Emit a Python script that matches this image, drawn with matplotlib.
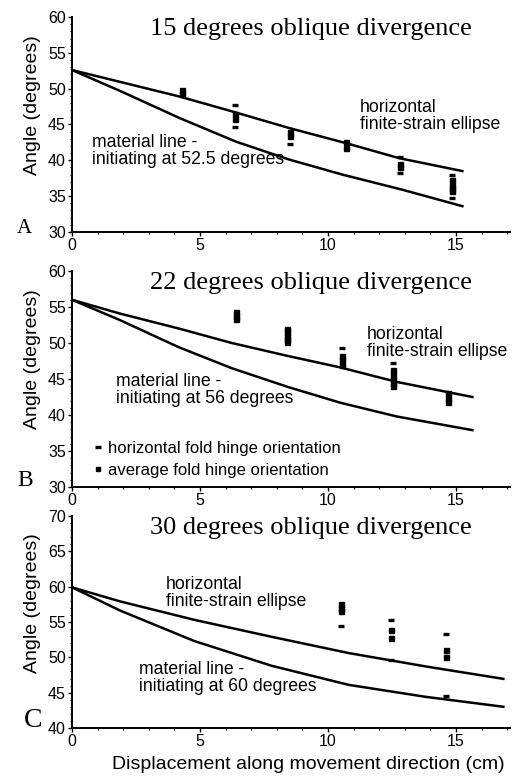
import matplotlib
matplotlib.use("Agg")
import matplotlib.pyplot as plt
from matplotlib.lines import Line2D
from matplotlib.ticker import MultipleLocator

plt.rcParams['font.family'] = ['Liberation Sans', 'DejaVu Sans']
SERIF = ['Liberation Serif', 'DejaVu Serif']

# === Data ===
# panel A: 15 degrees
a_ell_x = [0, 4.2, 6.28, 8.49, 10.7, 12.78, 15.25]
a_ellipse = [52.6, 48.9, 46.8, 44.5, 42.4, 40.3, 38.5]
a_mat_x = [0, 1.87, 4.2, 6.41, 8.49, 10.57, 12.9, 15.25]
a_material = [52.6, 49.7, 45.9, 42.6, 40.1, 38.0, 35.9, 33.6]
a_dash_x = [6.35, 6.35, 8.5, 12.8, 12.8, 14.85, 14.85]
a_dash_y = [47.7, 44.7, 42.3, 40.5, 38.2, 38.0, 34.8]
a_sq_x = [4.3, 4.3, 6.35, 6.35, 8.5, 8.5, 10.7, 10.7, 12.8, 12.8, 14.85, 14.85, 14.85, 14.85]
a_sq_y = [49.8, 49.3, 46.4, 45.8, 44.0, 43.4, 42.5, 41.7, 39.5, 39.0, 37.2, 36.6, 36.1, 35.7]

# panel B: 22 degrees
b_ell_x = [0, 1.86, 4.18, 6.24, 8.43, 10.49, 12.68, 15.64]
b_ellipse = [56.0, 54.1, 52.0, 50.0, 48.2, 46.6, 44.6, 42.5]
b_mat_x = [0, 1.86, 4.18, 6.24, 8.43, 10.49, 12.68, 15.64]
b_material = [56.0, 53.2, 49.4, 46.5, 43.9, 41.7, 39.8, 37.9]
b_dash_x = [10.55, 12.55]
b_dash_y = [49.3, 47.2]
b_sq_x = [6.4, 6.4, 6.4, 8.4, 8.4, 8.4, 8.4, 8.4, 10.55, 10.55, 10.55,
          12.55, 12.55, 12.55, 12.55, 12.55, 14.7, 14.7, 14.7]
b_sq_y = [54.3, 53.8, 53.3, 52.0, 51.5, 51.0, 50.5, 50.1, 48.2, 47.6, 47.0,
          46.2, 45.6, 45.0, 44.5, 44.0, 43.0, 42.4, 41.8]

# panel C: 30 degrees
c_ell_x = [0, 1.89, 4.78, 7.8, 10.81, 13.83, 16.85]
c_ellipse = [59.9, 57.9, 55.3, 52.9, 50.6, 48.7, 46.95]
c_mat_x = [0, 1.89, 4.78, 7.8, 10.81, 13.83, 16.85]
c_material = [59.9, 56.6, 52.3, 48.8, 46.1, 44.4, 43.0]
c_dash_x = [10.5, 12.45, 12.45, 14.6, 14.6]
c_dash_y = [54.5, 55.3, 49.6, 53.3, 44.5]
c_sq_x = [10.5, 10.5, 10.5, 12.45, 12.45, 14.6, 14.6]
c_sq_y = [57.5, 57.0, 56.6, 53.9, 52.7, 51.0, 50.1]

panels = [
    dict(letter='A', lsize=15, lpos=(-0.091, 0.014),
         title='15 degrees oblique divergence', ylim=(30, 60),
         ex=a_ell_x, ell=a_ellipse, mx=a_mat_x, mat=a_material,
         dx=a_dash_x, dy=a_dash_y, sx=a_sq_x, sy=a_sq_y,
         ell_txt=(0.658, 0.62), mat_txt=(0.045, 0.455),
         mat_label='material line -\ninitiating at 52.5 degrees',
         rect=[0.1406, 0.7026, 0.855, 0.2756]),
    dict(letter='B', lsize=17, lpos=(-0.089, 0.03),
         title='22 degrees oblique divergence', ylim=(30, 60),
         ex=b_ell_x, ell=b_ellipse, mx=b_mat_x, mat=b_material,
         dx=b_dash_x, dy=b_dash_y, sx=b_sq_x, sy=b_sq_y,
         ell_txt=(0.673, 0.745), mat_txt=(0.10, 0.53),
         mat_label='material line -\ninitiating at 56 degrees',
         rect=[0.1406, 0.3756, 0.855, 0.277]),
    dict(letter='C', lsize=20, lpos=(-0.068, 0.033),
         title='30 degrees oblique divergence', ylim=(40, 70),
         ex=c_ell_x, ell=c_ellipse, mx=c_mat_x, mat=c_material,
         dx=c_dash_x, dy=c_dash_y, sx=c_sq_x, sy=c_sq_y,
         ell_txt=(0.215, 0.716), mat_txt=(0.153, 0.317),
         mat_label='material line -\ninitiating at 60 degrees',
         rect=[0.1406, 0.0667, 0.855, 0.2718]),
]

fig = plt.figure(figsize=(5.12, 7.8), dpi=100)

for p in panels:
    ax = fig.add_axes(p['rect'])
    ax.plot(p['ex'], p['ell'], color='black', lw=1.8)
    ax.plot(p['mx'], p['mat'], color='black', lw=1.8)
    ax.plot(p['dx'], p['dy'], ls='none', marker='_', ms=5, mew=2.4, color='black')
    ax.plot(p['sx'], p['sy'], ls='none', marker='s', ms=3.6, color='black')

    ax.set_xlim(0, 17.1)
    ax.set_ylim(*p['ylim'])
    ax.xaxis.set_major_locator(MultipleLocator(5))
    ax.xaxis.set_minor_locator(MultipleLocator(1))
    ax.yaxis.set_major_locator(MultipleLocator(5))
    ax.yaxis.set_minor_locator(MultipleLocator(1))
    for s in ['top', 'right']:
        ax.spines[s].set_visible(False)
    for s in ['left', 'bottom']:
        ax.spines[s].set_linewidth(1.4)
    ax.tick_params(which='major', direction='out', length=3, width=1.0,
                   labelsize=11.5, pad=1.5)
    ax.tick_params(which='minor', direction='out', length=1.5, width=0.8)
    ax.set_ylabel('Angle (degrees)', fontsize=14)
    ax.yaxis.set_label_coords(-0.07, 0.59)

    ax.text(0.546, 0.995, p['title'], transform=ax.transAxes, ha='center',
            va='top', fontsize=19, family=SERIF)
    ax.text(p['lpos'][0], p['lpos'][1], p['letter'], transform=ax.transAxes,
            ha='right', va='center', fontsize=p['lsize'], family=SERIF)
    ax.text(p['ell_txt'][0], p['ell_txt'][1], 'horizontal\nfinite-strain ellipse',
            transform=ax.transAxes, ha='left', va='top', fontsize=12.7,
            linespacing=1.0)
    ax.text(p['mat_txt'][0], p['mat_txt'][1], p['mat_label'],
            transform=ax.transAxes, ha='left', va='top', fontsize=12.7,
            linespacing=1.0)

    if p['letter'] == 'B':
        handles = [
            Line2D([], [], ls='none', marker='_', ms=4, mew=2.4, color='black'),
            Line2D([], [], ls='none', marker='s', ms=3.2, color='black'),
        ]
        ax.legend(handles, ['horizontal fold hinge orientation',
                            'average fold hinge orientation'],
                  loc='lower left', bbox_to_anchor=(0.035, 0.013), frameon=False,
                  fontsize=12, handlelength=0.5, handletextpad=0.35,
                  labelspacing=0.38, borderaxespad=0)

    if p['letter'] == 'C':
        ax.set_xlabel('Displacement along movement direction (cm)', fontsize=14,
                      labelpad=5, x=0.54)

fig.savefig('out.png', dpi=100)
